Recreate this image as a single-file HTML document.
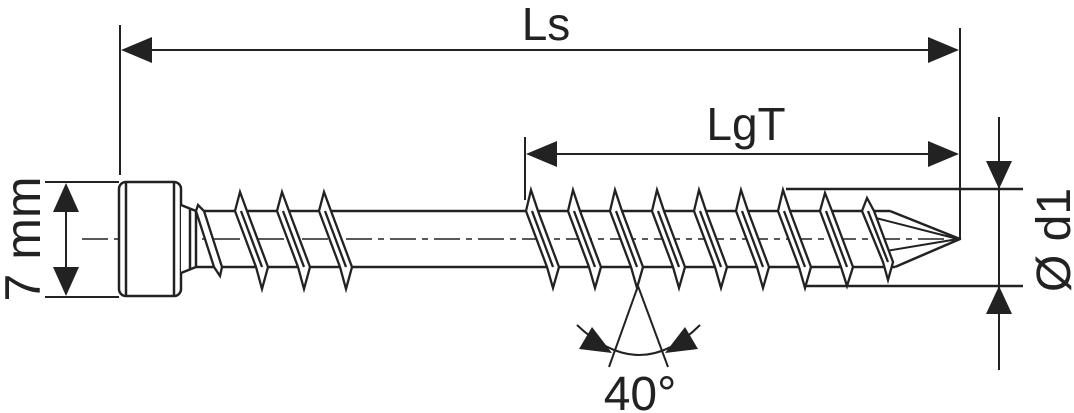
<!DOCTYPE html>
<html><head><meta charset="utf-8"><style>
html,body{margin:0;padding:0;background:#fff;}
svg{display:block;}
text{font-family:"Liberation Sans",sans-serif;fill:#222;}
</style></head><body>
<svg width="1074" height="413" viewBox="0 0 1074 413" xmlns="http://www.w3.org/2000/svg">
<g stroke="#222" fill="none" stroke-width="2">
<!-- extension lines -->
<line x1="120" y1="25" x2="120" y2="175"/>
<line x1="960" y1="28" x2="960" y2="239"/>
<line x1="525" y1="137" x2="525" y2="200"/>
<line x1="45" y1="182" x2="119" y2="182"/>
<line x1="45" y1="297" x2="119" y2="297"/>
<line x1="786" y1="189" x2="1023" y2="189" stroke-width="2.5"/>
<line x1="806" y1="286" x2="1023" y2="286" stroke-width="2.5"/>
<!-- dimension lines -->
<line x1="125" y1="50" x2="955" y2="50"/>
<line x1="530" y1="154" x2="955" y2="154"/>
<line x1="66" y1="190" x2="66" y2="290"/>
<line x1="999" y1="117" x2="999" y2="370"/>
<!-- centerline -->
<line x1="82" y1="239" x2="950" y2="239" stroke-width="1.5" stroke-dasharray="26,6,6,6"/>
</g>
<g fill="#222">
<polygon points="121,50 152,37 152,63"/>
<polygon points="959,50 928,37 928,63"/>
<polygon points="526,154 557,141 557,167"/>
<polygon points="959,154 928,141 928,167"/>
<polygon points="66,183 53,212 79,212"/>
<polygon points="66,296 53,267 79,267"/>
<polygon points="999,189 986,161 1012,161"/>
<polygon points="999,286 986,314 1012,314"/>
</g>
<!-- head -->
<g stroke="#222" fill="#fff" stroke-width="2.5" stroke-linejoin="round">
<rect x="119" y="182" width="62" height="114" rx="7"/>
<line x1="126" y1="182" x2="126" y2="296"/>
<line x1="174" y1="182" x2="174" y2="296"/>
<polyline points="181,205 196,211 196,267 181,273" />
<line x1="190" y1="208" x2="190" y2="270"/>
<!-- shaft -->
<line x1="196" y1="211" x2="890" y2="211"/>
<line x1="196" y1="267" x2="895" y2="267"/>
<!-- tip -->
<polyline points="890,211 960,239 895,267" fill="none"/>
<polyline points="868,216 958,239 880,252" fill="none" stroke-width="2"/>
</g>
<g stroke="#222" fill="#fff" stroke-width="2.3" stroke-linejoin="miter">
<!-- partial first thread -->
<polygon points="198,205 196,211 214,267 220,276 222,267 204,211"/>
<g id="th">
</g>
</g>
<g stroke="#222" fill="#fff" stroke-width="2.3">
<polygon points="240,192 235,211 256,267 262,289 268,267 247,211"/><line x1="241" y1="211" x2="262" y2="267"/>
<polygon points="282,192 277,211 298,267 304,289 310,267 289,211"/><line x1="283" y1="211" x2="304" y2="267"/>
<polygon points="324,192 319,211 340,267 346,289 352,267 331,211"/><line x1="325" y1="211" x2="346" y2="267"/>
<polygon points="531,190 526,211 547,267 553,288 559,267 538,211"/><line x1="532" y1="211" x2="553" y2="267"/>
<polygon points="573,190 568,211 589,267 595,288 601,267 580,211"/><line x1="574" y1="211" x2="595" y2="267"/>
<polygon points="615,190 610,211 631,267 637,288 643,267 622,211"/><line x1="616" y1="211" x2="637" y2="267"/>
<polygon points="657,190 652,211 673,267 679,288 685,267 664,211"/><line x1="658" y1="211" x2="679" y2="267"/>
<polygon points="699,190 694,211 715,267 721,288 727,267 706,211"/><line x1="700" y1="211" x2="721" y2="267"/>
<polygon points="741,190 736,211 757,267 763,288 769,267 748,211"/><line x1="742" y1="211" x2="763" y2="267"/>
<polygon points="783,190 778,211 799,267 805,288 811,267 790,211"/><line x1="784" y1="211" x2="805" y2="267"/>
<polygon points="825,193 820,211 841,267 847,286 853,267 832,211"/><line x1="826" y1="211" x2="847" y2="267"/>
<polygon points="867,198 862,211 883,262 888,280 893,262 874,211"/><line x1="868" y1="211" x2="888" y2="262"/>
</g>
<!-- angle -->
<g stroke="#222" fill="none" stroke-width="2">
<line x1="638" y1="286" x2="609" y2="367"/>
<line x1="638" y1="286" x2="668" y2="367"/>
<path d="M577,325 Q640,385 700,325"/>
</g>
<g fill="#222">
<polygon points="612,353 579,349 592,327"/>
<polygon points="665,353 698,349 685,327"/>
</g>
<text x="546" y="40" font-size="46" text-anchor="middle">Ls</text>
<text x="746" y="140" font-size="46" text-anchor="middle">LgT</text>
<text x="640" y="410" font-size="48" text-anchor="middle">40°</text>
<text transform="translate(40,239) rotate(-90)" font-size="50" text-anchor="middle">7 mm</text>
<text transform="translate(1070,240) rotate(-90)" font-size="48" text-anchor="middle">Ø d1</text>
</svg>
</body></html>
